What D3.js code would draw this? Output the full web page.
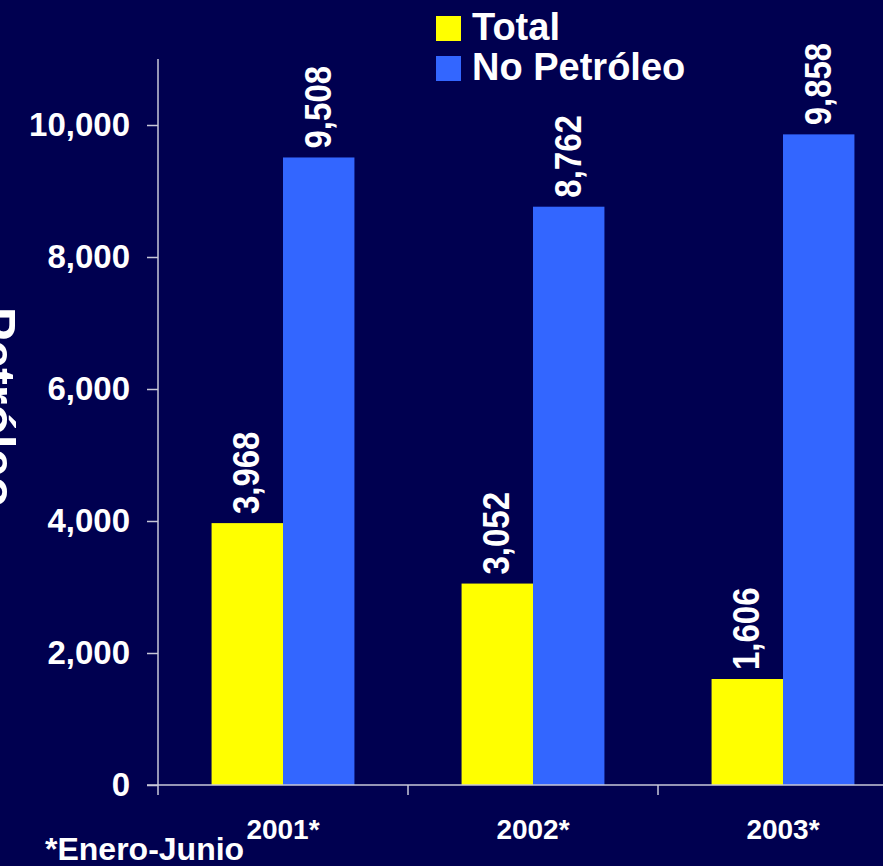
<!DOCTYPE html>
<html><head><meta charset="utf-8">
<script src="https://cdn.jsdelivr.net/npm/d3@7"></script>
<style>html,body{margin:0;padding:0;background:#000050;overflow:hidden}</style>
</head><body>
<svg id="c" width="883" height="866"></svg>
<script>
const categories = ["2001*", "2002*", "2003*"];
const seriesNames = ["Total", "No Petróleo"];
const totalValues = [3968, 3052, 1606];
const noPetroleoValues = [9508, 8762, 9858];
const yTicks = [0, 2000, 4000, 6000, 8000, 10000];
const colors = ["#FFFF00", "#3366FF"];

const svg = d3.select("#c");
const W = 883, H = 866;
svg.append("rect").attr("width", W).attr("height", H).attr("fill", "#000050");

const x0 = 158, x1 = 908, yBot = 785, yTop = 59;
const x = d3.scaleBand().domain(categories).range([x0, x1]).paddingInner(0).paddingOuter(0);
const xs = d3.scaleBand().domain(seriesNames).range([0, x.bandwidth()]).paddingInner(0).paddingOuter(0.75);
const y = d3.scaleLinear().domain([0, 11000]).range([yBot, yTop]);

const font = "'Liberation Sans', Arial, sans-serif";
const axisColor = "#c8c8d8";

// y axis
const yAxis = d3.axisLeft(y).tickValues(yTicks).tickSize(11).tickPadding(17)
  .tickFormat(d3.format(","));
const gy = svg.append("g").attr("transform", `translate(${x0},0)`).call(yAxis);
gy.select(".domain").remove();
gy.selectAll(".tick line").attr("stroke", axisColor).attr("stroke-width", 1.5);
gy.selectAll(".tick text").attr("fill", "#fff").attr("font-family", font)
  .attr("font-weight", "bold").attr("font-size", 33);
svg.append("line").attr("x1", x0).attr("x2", x0).attr("y1", yTop).attr("y2", yBot + 10)
  .attr("stroke", axisColor).attr("stroke-width", 1.5);

// bars
const data = categories.map((c, i) => ({c, vals: [totalValues[i], noPetroleoValues[i]]}));
const groups = svg.append("g").selectAll("g").data(data).join("g")
  .attr("transform", d => `translate(${x(d.c)},0)`);
groups.selectAll("rect").data(d => d.vals.map((v, j) => ({v, s: seriesNames[j], j})))
  .join("rect")
  .attr("x", d => xs(d.s)).attr("width", xs.bandwidth())
  .attr("y", d => y(d.v)).attr("height", d => y(0) - y(d.v))
  .attr("fill", d => colors[d.j]);
groups.selectAll("text").data(d => d.vals.map((v, j) => ({v, s: seriesNames[j], j})))
  .join("text")
  .attr("transform", d => `translate(${xs(d.s) + xs.bandwidth()/2 + 12},${y(d.v) - 9}) rotate(-90) scale(1,1.1)`)
  .attr("fill", "#fff").attr("font-family", font).attr("font-weight", "bold")
  .attr("font-size", 33).attr("text-anchor", "start")
  .text(d => d3.format(",")(d.v));

// x axis
svg.append("line").attr("x1", x0 - 11).attr("x2", W).attr("y1", yBot).attr("y2", yBot)
  .attr("stroke", axisColor).attr("stroke-width", 1.5);
categories.forEach((c, i) => {
  if (i > 0) svg.append("line").attr("x1", x(c)).attr("x2", x(c)).attr("y1", yBot).attr("y2", yBot + 10)
    .attr("stroke", axisColor).attr("stroke-width", 1.5);
});
svg.append("g").selectAll("text").data(categories).join("text")
  .attr("x", d => x(d) + x.bandwidth()/2).attr("y", 839)
  .attr("text-anchor", "middle").attr("fill", "#fff").attr("font-family", font)
  .attr("font-weight", "bold").attr("font-size", 28).text(d => d);

// y title (cut off at left edge as in the reference)
svg.append("text").attr("transform", "translate(-20,407) rotate(90)")
  .attr("text-anchor", "middle").attr("fill", "#fff").attr("font-family", font)
  .attr("font-weight", "bold").attr("font-size", 50).text("Petróleo");

// footnote
svg.append("text").attr("x", 45).attr("y", 860).attr("fill", "#fff").attr("font-family", font)
  .attr("font-weight", "bold").attr("font-size", 32).text("*Enero-Junio");

// legend
const leg = svg.append("g").selectAll("g").data(seriesNames).join("g")
  .attr("transform", (d, i) => `translate(436,${16 + i * 40})`);
leg.append("rect").attr("width", 25).attr("height", 25).attr("fill", (d, i) => colors[i]);
leg.append("text").attr("x", 36).attr("y", 24).attr("fill", "#fff").attr("font-family", font)
  .attr("font-weight", "bold").attr("font-size", 38).text(d => d);
</script>
</body></html>
